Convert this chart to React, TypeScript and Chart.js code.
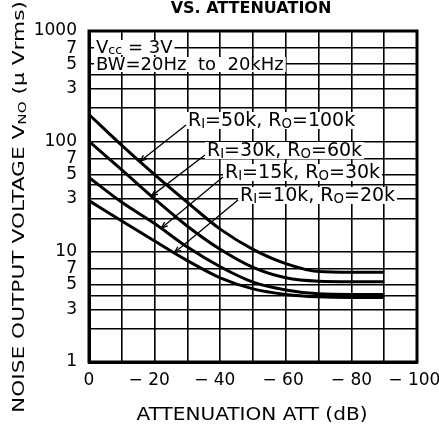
import React, { useEffect, useRef } from "react";
import { Chart, registerables } from "chart.js";

Chart.register(...registerables);

// ---------- data ----------
const attenuationDb = [0, -10, -20, -30, -40, -50, -60, -70, -80, -90];
const vnoRi50k = [175, 92, 50, 28, 16, 10.5, 7.8, 6.6, 6.5, 6.5];
const vnoRi30k = [100, 55, 30, 17, 10.5, 7.2, 5.8, 5.4, 5.35, 5.35];
const vnoRi15k = [47, 28, 18, 11, 7.3, 5.3, 4.5, 4.15, 4.1, 4.1];
const vnoRi10k = [29, 19, 12.5, 8.3, 5.8, 4.6, 4.1, 3.9, 3.85, 3.85];

const yTickValues = [1, 2, 3, 4, 5, 7, 10, 20, 30, 40, 50, 70, 100, 200, 300, 400, 500, 700, 1000];
const yTickLabels = ["1", "", "3", "", "5", "7", "10", "", "3", "", "5", "7", "100", "", "3", "", "5", "7", "1000"];
const xTickValues = [0, -10, -20, -30, -40, -50, -60, -70, -80, -90, -100];
const xTickLabels = ["0", "", "\u2212 20  ", "", "\u2212 40  ", "", "\u2212 60 ", "", "\u2212 80", "", "\u2212 100 "];

const titleText = "VS. ATTENUATION";
const xAxisTitle = "ATTENUATION ATT (dB)";
type Part = { t: string; sub?: boolean };
const yAxisTitle: Part[] = [{ t: "NOISE OUTPUT VOLTAGE V" }, { t: "NO", sub: true }, { t: " (\u03bc Vrms)" }];
const vccNote: Part[] = [{ t: "V" }, { t: "cc", sub: true }, { t: " = 3V" }];
const bwNote: Part[] = [{ t: "BW=20Hz  to  20kHz" }];

const seriesValues = [vnoRi50k, vnoRi30k, vnoRi15k, vnoRi10k];
const seriesNames = ["Ri=50k, Ro=100k", "Ri=30k, Ro=60k", "Ri=15k, Ro=30k", "Ri=10k, Ro=20k"];
const seriesRi = ["50k", "30k", "15k", "10k"];
const seriesRo = ["100k", "60k", "30k", "20k"];
// attenuation (dB) at which each label's leader line meets its curve
const leaderDb = [-15.5, -19, -22, -26];

// ---------- layout (pixels) ----------
const W = 439;
const H = 426;
const labelBoxes = [
  { x: 188, y: 121 },
  { x: 207, y: 151 },
  { x: 225, y: 173 },
  { x: 240, y: 196 },
];
const FONT = '"DejaVu Sans", "Noto Sans", sans-serif';

function drawParts(ctx: CanvasRenderingContext2D, parts: Part[], x: number, y: number, size: number, draw = true) {
  let cx = x;
  for (const p of parts) {
    const s = p.sub ? size * 0.7 : size;
    ctx.font = `${s}px ${FONT}`;
    if (draw) ctx.fillText(p.t, cx, y + (p.sub ? size * 0.17 : 0));
    cx += ctx.measureText(p.t).width;
  }
  return cx - x;
}

function valueAt(values: number[], db: number) {
  for (let i = 0; i < attenuationDb.length - 1; i++) {
    const a = attenuationDb[i];
    const b = attenuationDb[i + 1];
    if (db <= a && db >= b) {
      const t = (a - db) / (a - b);
      const la = Math.log10(values[i]);
      const lb = Math.log10(values[i + 1]);
      return Math.pow(10, la + (lb - la) * t);
    }
  }
  return values[values.length - 1];
}

const overlay = {
  id: "overlay",
  afterDatasetsDraw(chart: any) {
    const { ctx, chartArea: a, scales } = chart;
    const xs = scales.x;
    const ys = scales.y;
    ctx.save();
    ctx.fillStyle = "#000";
    ctx.strokeStyle = "#000";
    ctx.textBaseline = "middle";
    ctx.textAlign = "left";

    // notes with white background
    const notes: [Part[], number, number][] = [
      [vccNote, 96, 48],
      [bwNote, 96, 65],
    ];
    for (const [parts, x, y] of notes) {
      const w = drawParts(ctx, parts, x, y, 18, false);
      ctx.fillStyle = "#fff";
      ctx.fillRect(x - 2, y - 8, w + 4, 15);
      ctx.fillStyle = "#000";
      drawParts(ctx, parts, x, y, 18);
    }

    // curve labels and leaders
    for (let i = 0; i < seriesValues.length; i++) {
      const box = labelBoxes[i];
      const parts: Part[] = [
        { t: "R" },
        { t: "I", sub: true },
        { t: "=" + seriesRi[i] + ", R" },
        { t: "O", sub: true },
        { t: "=" + seriesRo[i] },
      ];
      const w = drawParts(ctx, parts, box.x, box.y, 19, false);
      ctx.fillStyle = "#fff";
      ctx.fillRect(box.x - 2, box.y - 9, w + 4, 17);
      ctx.fillStyle = "#000";
      drawParts(ctx, parts, box.x, box.y, 19);

      const ex = xs.getPixelForValue(leaderDb[i]);
      const ey = ys.getPixelForValue(valueAt(seriesValues[i], leaderDb[i]));
      const sx = box.x - 2;
      const sy = box.y + 4;
      ctx.lineWidth = 1.3;
      ctx.beginPath();
      ctx.moveTo(sx, sy);
      ctx.lineTo(ex, ey);
      ctx.stroke();
      const ang = Math.atan2(ey - sy, ex - sx);
      ctx.beginPath();
      ctx.moveTo(ex, ey);
      ctx.lineTo(ex - 7 * Math.cos(ang - 0.35), ey - 7 * Math.sin(ang - 0.35));
      ctx.moveTo(ex, ey);
      ctx.lineTo(ex - 7 * Math.cos(ang + 0.35), ey - 7 * Math.sin(ang + 0.35));
      ctx.stroke();
    }

    // frame
    ctx.lineWidth = 3;
    ctx.strokeRect(a.left, a.top, a.right - a.left, a.bottom - a.top);

    // title
    ctx.textAlign = "center";
    ctx.font = `bold 16px ${FONT}`;
    ctx.fillText(titleText, 251, 9);

    // x title
    ctx.font = `18px ${FONT}`;
    const xw = ctx.measureText(xAxisTitle).width;
    ctx.save();
    ctx.translate(252, 415);
    ctx.scale(231 / xw, 1);
    ctx.fillText(xAxisTitle, 0, 0);
    ctx.restore();

    // y title
    ctx.textAlign = "left";
    const yw = drawParts(ctx, yAxisTitle, 0, 0, 16, false);
    ctx.save();
    ctx.translate(20, 207);
    ctx.rotate(-Math.PI / 2);
    ctx.scale(412 / yw, 1);
    drawParts(ctx, yAxisTitle, -yw / 2, 0, 16);
    ctx.restore();

    ctx.restore();
  },
};

export default function App() {
  const ref = useRef<HTMLCanvasElement | null>(null);
  useEffect(() => {
    document.body.style.margin = "0";
    const canvas = ref.current;
    if (!canvas) return;
    const chart = new Chart(canvas, {
      type: "line",
      data: {
        datasets: seriesValues.map((vals, i) => ({
          label: seriesNames[i],
          data: attenuationDb.map((x, j) => ({ x, y: vals[j] })),
          borderColor: "#000",
          borderWidth: 3,
          pointRadius: 0,
          fill: false,
          cubicInterpolationMode: "monotone" as const,
        })),
      },
      options: {
        responsive: false,
        animation: false,
        devicePixelRatio: 1,
        layout: { padding: { top: 31, right: 22, left: 0, bottom: 0 } },
        plugins: { legend: { display: false }, tooltip: { enabled: false }, title: { display: false } },
        scales: {
          x: {
            type: "linear",
            min: -100,
            max: 0,
            reverse: true,
            afterBuildTicks: (s: any) => {
              s.ticks = xTickValues.map((v) => ({ value: v }));
            },
            afterFit: (s: any) => {
              s.height = 64;
              s.paddingLeft = 0;
              s.paddingRight = 0;
            },
            grid: { color: "#000", lineWidth: 1.6, drawTicks: false },
            border: { display: true, color: "#000", width: 3 },
            ticks: {
              autoSkip: false,
              maxRotation: 0,
              padding: 8,
              color: "#000",
              font: { family: FONT, size: 17 },
              callback: (v: any) => {
                const i = xTickValues.indexOf(Number(v));
                return i >= 0 ? xTickLabels[i] : "";
              },
            },
          },
          y: {
            type: "logarithmic",
            min: 1,
            max: 1000,
            afterBuildTicks: (s: any) => {
              s.ticks = yTickValues.map((v) => ({ value: v }));
            },
            afterFit: (s: any) => {
              s.width = 89;
              s.paddingTop = 0;
              s.paddingBottom = 0;
            },
            grid: { color: "#000", lineWidth: 1.6, drawTicks: false },
            border: { display: true, color: "#000", width: 3 },
            ticks: {
              autoSkip: false,
              padding: 12,
              color: "#000",
              font: { family: FONT, size: 17 },
              callback: (v: any) => {
                const i = yTickValues.indexOf(Number(v));
                return i >= 0 ? yTickLabels[i] : "";
              },
            },
          },
        },
      },
      plugins: [overlay],
    });
    return () => chart.destroy();
  }, []);
  return <canvas ref={ref} width={W} height={H} style={{ display: "block", width: W, height: H }} />;
}
